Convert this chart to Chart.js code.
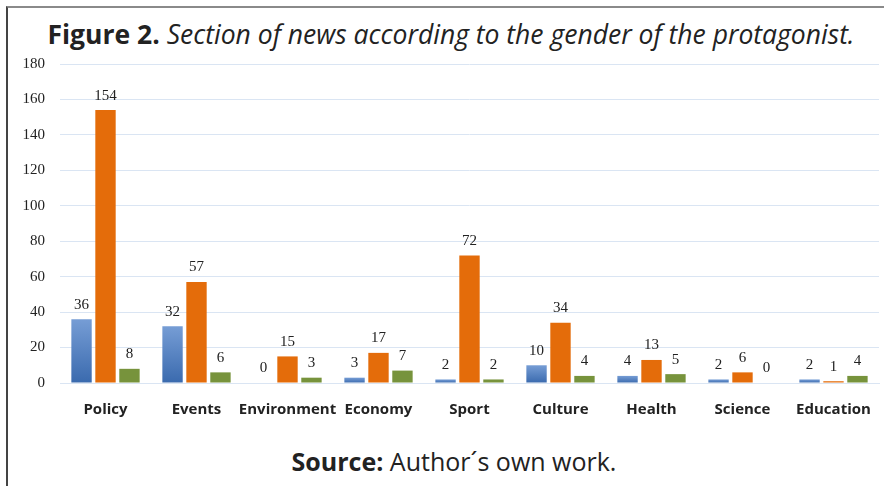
<!DOCTYPE html>
<html>
<head>
<meta charset="utf-8">
<script src="https://cdn.jsdelivr.net/npm/chart.js@4/dist/chart.umd.min.js"></script>
<style>
  body { margin: 0; background: #fff; width: 884px; height: 486px; overflow: hidden; position: relative; }
  #frame { position: absolute; left: 6px; top: 6px; width: 890px; height: 500px; border-top: 2px solid #8a8a8a; border-left: 2px solid #444; }
  #titre { position: absolute; left: 0; width: 902px; top: 16px; text-align: center; font-family: "Open Sans", sans-serif; font-size: 26.5px; color: #222; white-space: nowrap; }
  #titre b { font-weight: 700; }
  #titre i { font-style: italic; }
  #source { position: absolute; left: 0; width: 908px; top: 444px; text-align: center; font-family: "Open Sans", sans-serif; font-size: 25px; color: #222; }
  #graph { position: absolute; left: 6px; top: 40px; width: 878px; height: 395px; }
</style>
</head>
<body>
<div id="frame"></div>
<div id="titre"><b>Figure 2.</b> <i>Section of news according to the gender of the protagonist.</i></div>
<div id="graph"><canvas id="myChart"></canvas></div>
<div id="source"><b>Source:</b> Author´s own work.</div>

<script>
// Catégories et séries
const categories = ["Policy", "Events", "Environment", "Economy", "Sport", "Culture", "Health", "Science", "Education"];
const serieBleue = [36, 32, 0, 3, 2, 10, 4, 2, 2];
const serieOrange = [154, 57, 15, 17, 72, 34, 13, 6, 1];
const serieVerte = [8, 6, 3, 7, 2, 4, 5, 0, 4];
const ticksY = [0, 20, 40, 60, 80, 100, 120, 140, 160, 180];

// Dégradé bleu pour chaque barre (clair en haut, foncé en bas)
const degradeBleu = (context) => {
  const chart = context.chart;
  const { ctx, chartArea, scales } = chart;
  if (!chartArea || !scales.y) return "#5581c4";
  const haut = scales.y.getPixelForValue(context.raw || 0);
  const bas = scales.y.getPixelForValue(0);
  if (bas - haut < 1) return "#3b6db0";
  const g = ctx.createLinearGradient(0, haut, 0, bas);
  g.addColorStop(0, "#769dd5");
  g.addColorStop(1, "#3a6aae");
  return g;
};

// Plugin pour écrire les valeurs au-dessus des barres
const etiquettes = {
  id: "etiquettes",
  afterDatasetsDraw(chart) {
    const ctx = chart.ctx;
    ctx.save();
    ctx.font = "15px 'Liberation Serif', 'Times New Roman', serif";
    ctx.fillStyle = "#222";
    ctx.textAlign = "center";
    ctx.textBaseline = "bottom";
    chart.data.datasets.forEach((ds, i) => {
      chart.getDatasetMeta(i).data.forEach((bar, j) => {
        ctx.fillText(ds.data[j], bar.x, bar.y - 7);
      });
    });
    ctx.restore();
  },
};

const ctx = document.getElementById("myChart").getContext("2d");
new Chart(ctx, {
  type: "bar",
  data: {
    labels: categories,
    datasets: [
      { label: "Blue", data: serieBleue, backgroundColor: degradeBleu },
      { label: "Orange", data: serieOrange, backgroundColor: "#e46c0a" },
      { label: "Green", data: serieVerte, backgroundColor: "#77933c" },
    ],
  },
  options: {
    responsive: true,
    maintainAspectRatio: false,
    animation: false,
    categoryPercentage: 0.79,
    barPercentage: 0.85,
    layout: { padding: { top: 5, right: 5, bottom: 0, left: 0 } },
    plugins: {
      legend: { display: false },
      tooltip: { enabled: false },
    },
    scales: {
      y: {
        min: 0,
        max: 180,
        afterBuildTicks: (scale) => { scale.ticks = ticksY.map((v) => ({ value: v })); },
        afterFit: (scale) => { scale.width = 54; },
        grid: { color: "#dae5f3", lineWidth: 1, drawTicks: false },
        border: { display: false },
        ticks: {
          padding: 15,
          color: "#222",
          font: { family: "'Liberation Serif', 'Times New Roman', serif", size: 15 },
        },
      },
      x: {
        afterFit: (scale) => { scale.height = 52; },
        grid: { display: false },
        border: { display: true, color: "#dae5f3" },
        ticks: {
          padding: 10,
          maxRotation: 0,
          minRotation: 0,
          autoSkip: false,
          color: "#222",
          font: { family: "'Open Sans', sans-serif", size: 15, weight: "bold" },
        },
      },
    },
  },
  plugins: [etiquettes],
});
</script>
</body>
</html>
